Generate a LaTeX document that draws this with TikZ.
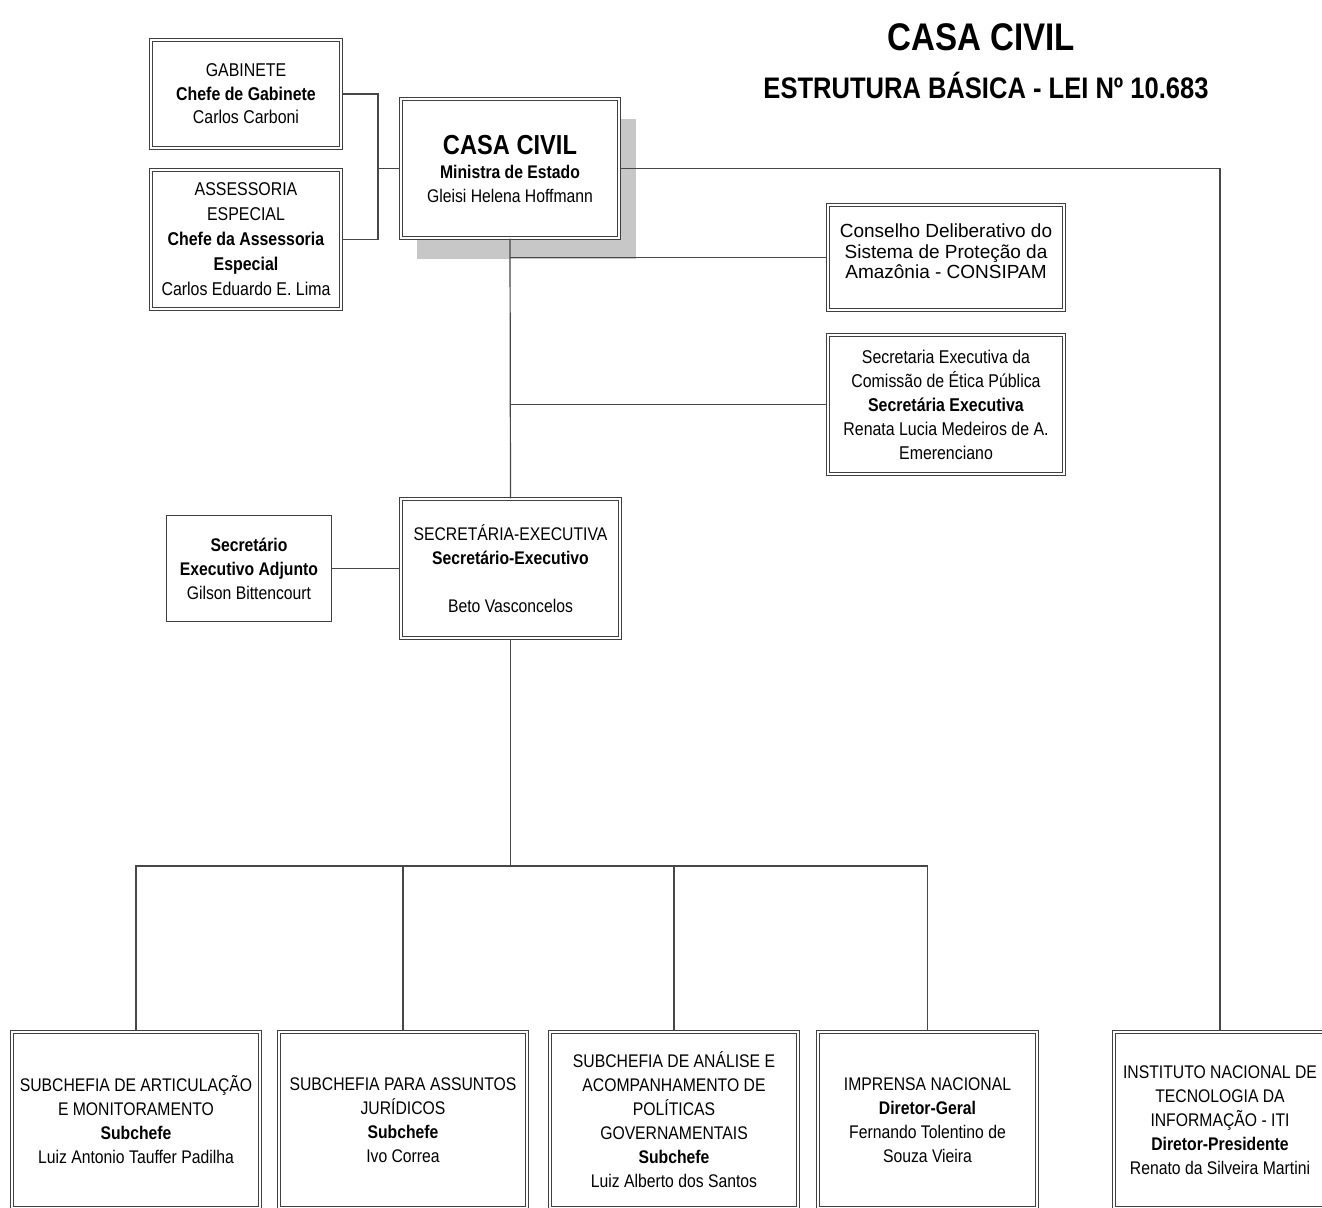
\documentclass[tikz,border=0pt]{standalone}
\usepackage{fontspec}
\setmainfont{Liberation Sans}[FakeStretch=0.86]
\newfontfamily\plainsans{Liberation Sans}
\usetikzlibrary{positioning,shadows}

\newcommand{\boxfont}{\fontsize{18.3}{24}\selectfont}

\begin{document}
\begin{tikzpicture}[
  x=1pt, y=-1pt,
  orgbox/.style={draw=black!75, double, double distance=2pt, line width=0.9pt,
    fill=white, align=center, inner sep=0pt, font=\boxfont},
  plainbox/.style={draw=black!75, line width=1.1pt, fill=white,
    align=center, inner sep=0pt, font=\boxfont},
  link/.style={draw=black!72, line width=1.2pt},
]
  \useasboundingbox (0,0) rectangle (1322,1207);
  \clip (0,0) rectangle (1322,1207);

  % Title
  \node (title)    at (981,37) {\fontsize{38.5}{38}\selectfont\bfseries CASA CIVIL};
  \node (subtitle) at (986,86) {\fontsize{29.7}{30}\selectfont\bfseries ESTRUTURA BÁSICA - LEI Nº 10.683};

  % Top level
  \node[orgbox, minimum width=218.2, minimum height=139.2,
    drop shadow={shadow xshift=16.5pt, shadow yshift=-20.5pt, fill=black!22, opacity=1}]
    (casa) at (510,168.5)
    {{\fontsize{27.5}{32}\selectfont\bfseries CASA CIVIL}\\
     \textbf{Ministra de Estado}\\ Gleisi Helena Hoffmann};
  \node[orgbox, minimum width=190.2, minimum height=108.2, font=\fontsize{18.5}{23.5}\selectfont]
    (gab) at (246,94)
    {GABINETE\\ \textbf{Chefe de Gabinete}\\ Carlos Carboni};
  \node[orgbox, minimum width=190.2, minimum height=139.2, font=\fontsize{18.5}{25}\selectfont]
    (ass) at (246,239.5)
    {ASSESSORIA\\ ESPECIAL\\ \textbf{Chefe da Assessoria}\\ \textbf{Especial}\\ Carlos Eduardo E. Lima};

  % Boxes tied to the Casa Civil spine
  \node[orgbox, minimum width=236.2, minimum height=105.2,
    font=\plainsans\fontsize{19}{20.5}\selectfont]
    (consipam) at (946,257.5)
    {Conselho Deliberativo do\\ Sistema de Proteção da\\ Amazônia - CONSIPAM\\[-8pt]\mbox{}};
  \node[orgbox, minimum width=236.2, minimum height=139.2, font=\fontsize{18.5}{24}\selectfont]
    (etica) at (946,404.5)
    {Secretaria Executiva da\\ Comissão de Ética Pública\\ \textbf{Secretária Executiva}\\
     Renata Lucia Medeiros de A.\\ Emerenciano};

  % Secretaria-Executiva
  \node[orgbox, minimum width=219.2, minimum height=139.2] (se) at (510.5,568.5)
    {SECRETÁRIA-EXECUTIVA\\ \textbf{Secretário-Executivo}\\[24pt] Beto Vasconcelos};
  \node[plainbox, minimum width=164.9, minimum height=105.9] (adj) at (249,568.5)
    {\textbf{Secretário}\\ \textbf{Executivo Adjunto}\\ Gilson Bittencourt};

  % Bottom row (cut by the page edge)
  \node[orgbox, minimum width=248.2, minimum height=176.2] (art) at (136,1120)
    {SUBCHEFIA DE ARTICULAÇÃO\\ E MONITORAMENTO\\ \textbf{Subchefe}\\ Luiz Antonio Tauffer Padilha};
  \node[orgbox, minimum width=248.2, minimum height=176.2] (jur) at (403,1120)
    {SUBCHEFIA PARA ASSUNTOS\\ JURÍDICOS\\ \textbf{Subchefe}\\ Ivo Correa};
  \node[orgbox, minimum width=248.2, minimum height=176.2] (anal) at (674,1120)
    {SUBCHEFIA DE ANÁLISE E\\ ACOMPANHAMENTO DE\\ POLÍTICAS\\ GOVERNAMENTAIS\\
     \textbf{Subchefe}\\ Luiz Alberto dos Santos};
  \node[orgbox, minimum width=219.2, minimum height=176.2] (imp) at (927.5,1120)
    {IMPRENSA NACIONAL\\ \textbf{Diretor-Geral}\\ Fernando Tolentino de\\ Souza Vieira};
  \node[orgbox, minimum width=212.2, minimum height=176.2] (iti) at (1220,1120)
    {INSTITUTO NACIONAL DE\\ TECNOLOGIA DA\\ INFORMAÇÃO - ITI\\
     \textbf{Diretor-Presidente}\\ Renato da Silveira Martini};

  % Connectors
  \coordinate (gj) at (378,168.5);
  \draw[link] (gab.east) -| (gj) |- (ass.east);
  \draw[link] (gj) -- (casa.west);
  \draw[link] (casa.east) -| (iti.north);
  \draw[link] (casa.south) -- (se.north);
  \draw[link] (casa.south |- consipam.west) -- (consipam.west);
  \draw[link] (casa.south |- etica.west) -- (etica.west);
  \draw[link] (adj.east) -- (se.west);

  \coordinate (bus) at (510.5,866);
  \draw[link] (se.south) -- (bus);
  \draw[link] (art.north) |- (bus) -| (imp.north);
  \foreach \b in {jur,anal}
    \draw[link] (\b.north) -- (\b.north |- bus);
\end{tikzpicture}
\end{document}
